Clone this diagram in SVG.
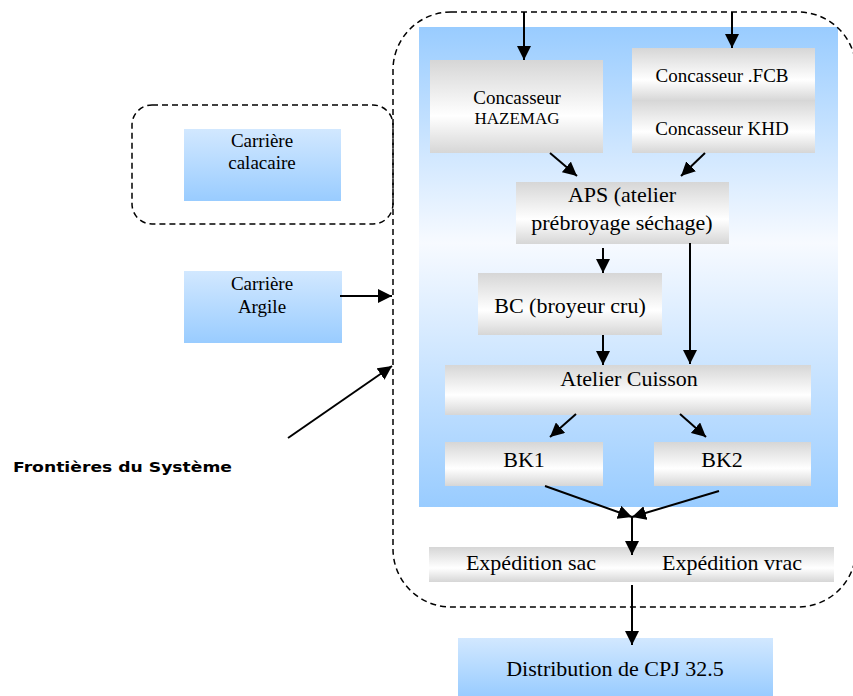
<svg xmlns="http://www.w3.org/2000/svg" width="853" height="696" viewBox="0 0 853 696">
<defs>
<linearGradient id="silver" x1="0" y1="0" x2="0" y2="1">
<stop offset="0" stop-color="#d6d6d6"/>
<stop offset="0.6" stop-color="#ffffff"/>
<stop offset="1" stop-color="#d6d6d6"/>
</linearGradient>
<linearGradient id="inner" x1="0" y1="0" x2="0" y2="1">
<stop offset="0" stop-color="#99ccff"/>
<stop offset="0.45" stop-color="#f7faff"/>
<stop offset="1" stop-color="#99ccff"/>
</linearGradient>
<linearGradient id="sky" x1="0" y1="0" x2="0" y2="1">
<stop offset="0" stop-color="#d2e8ff"/>
<stop offset="1" stop-color="#99ccff"/>
</linearGradient>
<marker id="ah" markerUnits="userSpaceOnUse" markerWidth="14" markerHeight="14" viewBox="0 0 14 14" refX="14" refY="7" orient="auto">
<path d="M0,0 L14,7 L0,14 z" fill="#000"/>
</marker>
</defs>
<style>
.box{fill:url(#silver);}
.sky{fill:url(#sky);}
.bound{fill:none;stroke:#000;stroke-width:1.5;stroke-dasharray:6 4;}
.t{font-family:"Liberation Serif","Times New Roman",serif;fill:#000;text-anchor:middle;}
.lbl{font-family:"DejaVu Sans",Verdana,sans-serif;font-weight:bold;font-size:14px;fill:#000;}
.c{stroke:#000;stroke-width:2;fill:none;marker-end:url(#ah);}
</style>

<rect x="419" y="27" width="419" height="480" fill="url(#inner)"/>

<g id="boundary-main"><rect class="bound" x="393" y="12" width="463" height="595" rx="58" ry="58"/></g>
<g id="boundary-calcaire"><rect class="bound" x="132" y="105" width="261" height="119" rx="20" ry="20"/></g>

<g id="carriere-calcaire">
<rect class="sky" x="184" y="129" width="157" height="72"/>
<text class="t" x="262" y="147" font-size="19">Carrière</text>
<text class="t" x="262" y="169" font-size="19">calacaire</text>
</g>
<g id="carriere-argile">
<rect class="sky" x="184" y="271" width="158" height="72"/>
<text class="t" x="262" y="290" font-size="19">Carrière</text>
<text class="t" x="262" y="313" font-size="19">Argile</text>
</g>

<g id="hazemag">
<rect class="box" x="430" y="60" width="173" height="93"/>
<text class="t" x="517" y="104" font-size="19">Concasseur</text>
<text class="t" x="517" y="124" font-size="17">HAZEMAG</text>
</g>
<g id="fcb-khd">
<rect class="box" x="632" y="48" width="183" height="53"/>
<rect class="box" x="632" y="100" width="183" height="53"/>
<text class="t" x="722" y="82" font-size="19">Concasseur .FCB</text>
<text class="t" x="722" y="135" font-size="19">Concasseur KHD</text>
</g>
<g id="aps">
<rect class="box" x="516" y="182" width="213" height="62"/>
<text class="t" x="622" y="202" font-size="22">APS (atelier</text>
<text class="t" x="622" y="230" font-size="22">prébroyage séchage)</text>
</g>
<g id="bc">
<rect class="box" x="478" y="273" width="184" height="62"/>
<text class="t" x="570" y="313" font-size="22">BC (broyeur cru)</text>
</g>
<g id="cuisson">
<rect class="box" x="445" y="365" width="366" height="50"/>
<text class="t" x="629" y="386" font-size="22">Atelier Cuisson</text>
</g>
<g id="bk1">
<rect class="box" x="445" y="442" width="158" height="44"/>
<text class="t" x="524" y="467" font-size="22">BK1</text>
</g>
<g id="bk2">
<rect class="box" x="654" y="442" width="157" height="44"/>
<text class="t" x="722" y="467" font-size="22">BK2</text>
</g>
<g id="expedition">
<rect class="box" x="429" y="547" width="405" height="35"/>
<text class="t" x="531" y="570" font-size="22">Expédition sac</text>
<text class="t" x="732" y="570" font-size="22">Expédition vrac</text>
</g>
<g id="distribution">
<rect class="sky" x="458" y="638" width="315" height="58"/>
<text class="t" x="615" y="676" font-size="22">Distribution de CPJ 32.5</text>
</g>

<g id="frontieres-label">
<text class="lbl" x="13" y="472" textLength="219" lengthAdjust="spacingAndGlyphs">Frontières du Système</text>
</g>

<g id="connectors">
<line class="c" x1="524" y1="12" x2="524" y2="60"/>
<line class="c" x1="732" y1="12" x2="732" y2="48"/>
<line class="c" x1="550" y1="153" x2="577" y2="176"/>
<line class="c" x1="705" y1="153" x2="681" y2="176"/>
<line class="c" x1="603" y1="248" x2="603" y2="273"/>
<line class="c" x1="690" y1="243" x2="690" y2="364"/>
<line class="c" x1="603" y1="335" x2="603" y2="365"/>
<line class="c" x1="576" y1="414" x2="550" y2="437"/>
<line class="c" x1="680" y1="414" x2="706" y2="437"/>
<line class="c" x1="545" y1="486" x2="632" y2="517"/>
<line class="c" x1="719" y1="491" x2="632" y2="517"/>
<line class="c" x1="632" y1="517" x2="632" y2="555"/>
<line class="c" x1="632" y1="585" x2="632" y2="645"/>
<line class="c" x1="340" y1="296" x2="392" y2="296"/>
<line class="c" x1="288" y1="438" x2="392" y2="366"/>
</g>
</svg>
